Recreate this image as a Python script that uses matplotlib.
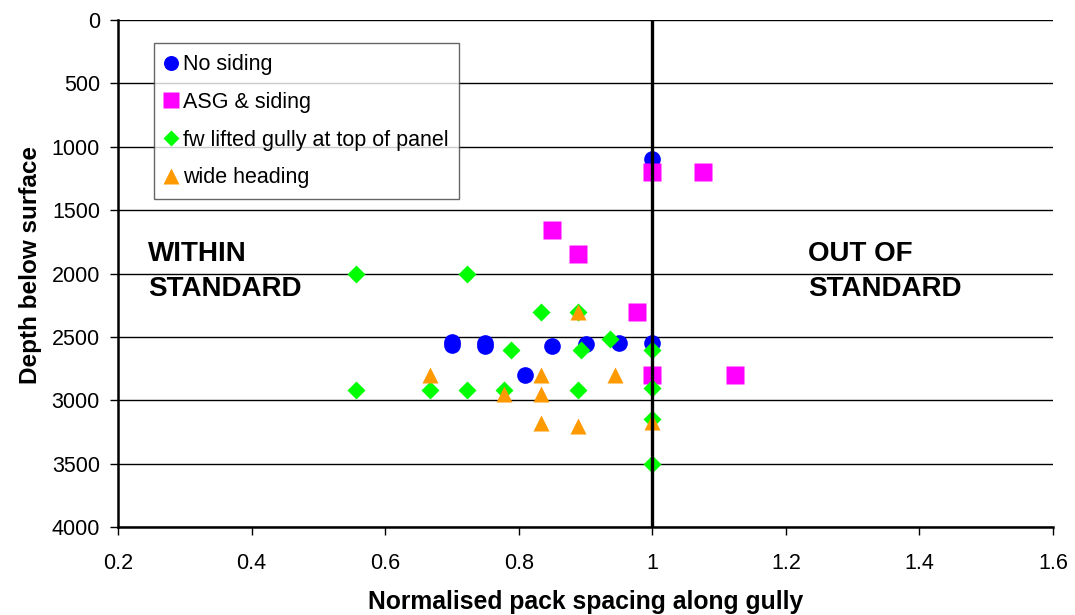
import matplotlib
matplotlib.use("Agg")
import matplotlib.pyplot as plt

plt.rcParams["font.family"] = ["Liberation Sans", "DejaVu Sans"]

# Normalised pack spacing (x) and depth below surface (y) per panel group
no_siding_x = [1.0, 0.70, 0.70, 0.75, 0.75, 0.85, 0.90, 0.95, 1.0, 0.81]
no_siding_y = [1100, 2540, 2565, 2550, 2570, 2570, 2560, 2550, 2550, 2800]

asg_x = [1.0, 1.076, 0.85, 0.889, 0.977, 1.0, 1.124]
asg_y = [1200, 1200, 1660, 1850, 2300, 2800, 2800]

fw_x = [0.556, 0.722, 0.833, 0.889, 0.789, 0.894, 0.937, 1.0,
        0.556, 0.667, 0.722, 0.778, 0.889, 1.0, 1.0, 1.0]
fw_y = [2000, 2000, 2300, 2300, 2600, 2600, 2520, 2600,
        2920, 2920, 2920, 2920, 2920, 2900, 3150, 3500]

wide_x = [0.889, 0.667, 0.833, 0.944, 0.778, 0.833, 0.833, 0.889, 1.0]
wide_y = [2300, 2800, 2800, 2800, 2950, 2950, 3180, 3200, 3170]

series_labels = ["No siding", "ASG & siding",
                 "fw lifted gully at top of panel", "wide heading"]

x_ticks = [0.2, 0.4, 0.6, 0.8, 1.0, 1.2, 1.4, 1.6]
x_tick_labels = ["0.2", "0.4", "0.6", "0.8", "1", "1.2", "1.4", "1.6"]
y_ticks = [0, 500, 1000, 1500, 2000, 2500, 3000, 3500, 4000]

standard_limit = 1.0

fig = plt.figure(figsize=(10.75, 6.15), dpi=100)
ax = fig.add_axes([118 / 1075, 88 / 615, 935 / 1075, 507 / 615])

ax.plot(no_siding_x, no_siding_y, "o", color="#0000FF", ms=12,
        mec="none", label=series_labels[0], zorder=3)
ax.plot(asg_x, asg_y, "s", color="#FF00FF", ms=12.3,
        mec="none", label=series_labels[1], zorder=4)
ax.plot(fw_x, fw_y, "D", color="#00FF00", ms=8.7,
        mec="none", label=series_labels[2], zorder=5)
ax.plot(wide_x, wide_y, "^", color="#FF9900", ms=12.2,
        mec="none", label=series_labels[3], zorder=6)

ax.axvline(standard_limit, color="black", lw=2.4, zorder=7)

ax.set_xlim(0.2, 1.6)
ax.set_ylim(4000, 0)
ax.set_xticks(x_ticks)
ax.set_xticklabels(x_tick_labels)
ax.set_yticks(y_ticks)

ax.yaxis.grid(True, color="black", lw=1.0)
ax.set_axisbelow(True)
for side in ("top", "right"):
    ax.spines[side].set_visible(False)
for side in ("left", "bottom"):
    ax.spines[side].set_linewidth(1.8)
    ax.spines[side].set_color("black")

ax.tick_params(axis="both", labelsize=15.5, length=6, width=1,
               direction="out", colors="black")
ax.tick_params(axis="x", pad=13)
ax.tick_params(axis="y", pad=7)

ax.set_xlabel("Normalised pack spacing along gully", fontsize=17.8,
              fontweight="bold", labelpad=11)
ax.set_ylabel("Depth below surface", fontsize=17.5, fontweight="bold")
ax.yaxis.set_label_coords(-0.0813, 0.517)

ax.text(0.245, 1745, "WITHIN\nSTANDARD", fontsize=20, fontweight="bold",
        va="top", ha="left", linespacing=1.45)
ax.text(1.2335, 1745, "OUT OF\nSTANDARD", fontsize=20, fontweight="bold",
        va="top", ha="left", linespacing=1.45)

leg = ax.legend(loc="upper left", bbox_to_anchor=(0.0385, 0.954),
                borderaxespad=0, fontsize=15.5, frameon=True, fancybox=False,
                handlelength=0.6, handletextpad=0.25, labelspacing=0.78,
                borderpad=0.5, markerscale=0.9)
leg.get_frame().set_edgecolor("#404040")
leg.get_frame().set_linewidth(1.0)
leg.set_zorder(10)

fig.savefig("out.png", dpi=100, facecolor="white")
